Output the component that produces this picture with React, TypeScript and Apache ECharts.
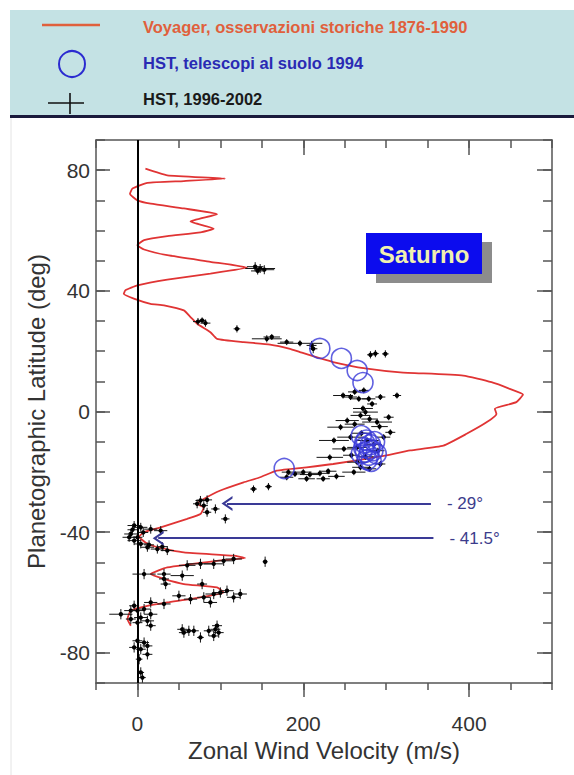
import React, { useEffect, useRef } from "react";
import * as echarts from "echarts";

// Voyager profile, historical observations 1876-1990: [velocity m/s, latitude deg]
const voyagerCurve: [number, number][] = [
  [9.6, 80.5], [36, 78.3], [106, 77.2], [56, 76.4], [12, 75.8], [-6, 73.9], [-9, 72.2],
  [0, 70], [16, 68.9], [56, 67.3], [96, 65.4], [64, 63], [92, 60.6], [76, 59.4], [36, 58.1],
  [8, 56.8], [0, 55.1], [8, 53.7], [36, 51.8], [88, 49.6], [132, 47.7], [88, 45.7],
  [36, 43.7], [0, 41.8], [-14.5, 40.2], [-16.5, 39], [-4.4, 37.4], [15.7, 35.7], [32, 35.2],
  [56, 33.5], [64, 31.3], [72, 29.1], [88, 26.3], [96, 24.1], [128, 23], [160, 22.2],
  [184, 20.8], [196, 19.7], [236, 16.4], [277, 14.2], [317, 13], [393, 11.9], [427, 9.7],
  [449, 7.5], [465, 5.6], [457, 3.1], [431, 0.9], [433, -0.8], [421, -3.6], [397, -7.4],
  [369, -11.3], [329, -12.9], [293, -14.9], [236, -17.4], [204, -18.5], [168, -19.6],
  [148, -21.8], [128, -23.5], [100, -26.2], [80, -29], [72, -30.6], [80, -31.8], [76, -34],
  [60, -35.6], [28, -38.4], [8, -40], [2, -41.5], [10, -43.5], [24, -45], [56, -46.7],
  [116, -47.8], [130, -48.6], [96, -49.5], [36, -51.7], [16, -53.9], [32, -55.5], [56, -57.2],
  [96, -58.3], [104, -60], [76, -61.6], [36, -63.3], [12, -64.4], [-8, -66], [-12, -68.8],
  [-8, -71],
];

// HST + ground telescopes 1994: [velocity, latitude]
const hst1994: [number, number][] = [
  [220, 20.9], [246, 17.6], [265, 13.6], [272, 9.6], [177, -18.9],
  [270, -8], [276, -9.5], [281, -11], [273, -12], [284, -13], [279, -14.5], [270, -14],
  [286, -10], [277, -16], [282, -16.5], [274, -10.5], [288, -14], [280, -12.5], [275, -13.5],
];

// HST 1996-2002: [velocity, latitude, velocity error, latitude error]
const hst9602: [number, number, number, number][] = [
  [148, 47.4, 18, 1.5], [142, 48.0, 10, 1.5], [153, 47.0, 12, 1.5], [145, 46.6, 8, 1.2],
  [73, 29.8, 6, 1.2], [82, 29.3, 6, 1.2], [78, 30.2, 5, 1], [120, 27.4, 4, 1.2],
  [156, 24.1, 18, 1.2], [162, 24.7, 10, 1], [180, 23.0, 8, 1], [196, 22.6, 27, 1],
  [210, 21.9, 6, 1.5], [212, 20.8, 5, 1.5], [281, 18.8, 4, 1.2], [287, 19.2, 4, 1.2], [299, 19.1, 4, 1.2],
  [248, 5.3, 12, 1], [257, 4.8, 8, 1], [267, 4.2, 10, 1], [279, 4.2, 8, 1], [293, 4.8, 6, 1],
  [313, 5.3, 5, 1], [283, 2.5, 6, 1], [273, 7.0, 6, 1], [262, 6.5, 8, 1],
  [275, -0.2, 15, 1], [269, -1.3, 12, 1], [289, -3.5, 18, 1], [303, -1.9, 6, 1], [253, -3.0, 14, 1],
  [245, -5.2, 16, 1], [280, -2.5, 10, 1], [292, -5.0, 10, 1], [262, -4.2, 12, 1], [272, 1.0, 12, 1],
  [305, -6.9, 6, 1], [237, -9.6, 18, 1], [257, -8.5, 16, 1], [277, -9.6, 14, 1], [297, -8.5, 8, 1],
  [249, -12.4, 14, 1], [265, -11.9, 12, 1], [285, -11, 10, 1], [270, -7.2, 12, 1], [290, -13, 8, 1],
  [258, -14.5, 10, 1],
  [293, -17.4, 6, 1], [232, -15.2, 16, 1], [265, -16.8, 12, 1], [269, -18.5, 10, 1], [261, -20.1, 14, 1],
  [275, -15.0, 10, 1], [280, -19.0, 8, 1],
  [182, -20.1, 8, 1], [190, -20.7, 10, 1], [200, -20.1, 10, 1], [208, -20.9, 12, 1], [220, -20.5, 12, 1],
  [230, -19.8, 10, 1], [224, -22.3, 8, 1], [204, -22.3, 10, 1], [180, -21.8, 8, 1], [240, -21.5, 10, 1],
  [140, -25.7, 4, 1.2], [158, -24.9, 4, 1.2],
  [76, -29.5, 6, 1.5], [84, -29.3, 6, 1.5], [80, -31.2, 5, 1.5], [84, -33.4, 5, 1.5], [94, -32.3, 5, 1.5],
  [106, -35.6, 5, 1.5], [72, -30.6, 5, 1.5],
  [-4, -37.8, 8, 1.5], [4, -38.4, 8, 1.5], [16, -39.0, 8, 1.5], [28, -39.5, 8, 1.5], [-8, -40.6, 8, 1.5],
  [-10, -41.7, 8, 1.5], [-4, -42.8, 8, 1.5], [4, -43.9, 8, 1.5], [12, -45.0, 8, 1.5], [24, -45.6, 8, 1.5],
  [36, -46.1, 8, 1.5], [0, -41.7, 6, 1.5], [7, -40.1, 6, 1.5], [-6, -39.2, 6, 1.5], [14, -44.2, 6, 1.5],
  [30, -44.8, 6, 1.5],
  [76, -50.5, 15, 1.7], [92, -50.5, 12, 1.7], [104, -49.5, 12, 1.7], [116, -48.9, 10, 1.7],
  [154, -49.8, 3, 1.7], [60, -51, 10, 1.7],
  [8, -53.9, 14, 1.7], [32, -53.9, 8, 1.7], [54, -54.4, 14, 1.7], [34, -57.2, 6, 1.7], [32, -55.5, 6, 1.7],
  [78, -57.2, 6, 1.7], [80, -61.6, 8, 1.7], [92, -60.5, 10, 1.7], [100, -60.0, 8, 1.7], [108, -59.4, 8, 1.7],
  [124, -60.5, 8, 1.7], [116, -61.6, 8, 1.7], [88, -63.3, 8, 1.7], [64, -62.2, 8, 1.7], [50, -61.1, 8, 1.7],
  [32, -63.8, 8, 1.7], [16, -63.3, 8, 1.7],
  [-20, -67.2, 14, 1.7], [-8, -66, 8, 1.7], [0, -66, 8, 1.7], [8, -65.5, 8, 1.7], [16, -67.2, 8, 1.7],
  [4, -68.3, 8, 1.7], [12, -69.4, 8, 1.7], [16, -71, 6, 1.7], [0, -70, 6, 1.7], [-8, -68.8, 6, 1.7],
  [-4, -64.4, 6, 1.7],
  [54, -72.2, 6, 1.7], [62, -72.7, 6, 1.7], [56, -73.3, 6, 1.7], [68, -72.7, 6, 1.7], [76, -74.9, 4, 1.7],
  [86, -72.7, 6, 1.7], [94, -72.2, 6, 1.7], [98, -73.3, 6, 1.7], [92, -74.4, 6, 1.7], [96, -71, 6, 1.7],
  [0, -76, 6, 1.7], [-4, -78.2, 6, 1.7], [4, -78.8, 6, 1.7], [12, -77.7, 6, 1.7], [12, -80.5, 6, 1.7],
  [2, -82.1, 4, 1.7], [8, -76.6, 6, 1.7], [6, -88.2, 4, 1.7], [4, -86.5, 4, 1.7],
];

const xMajorTicks = [0, 200, 400];
const yMajorTicks = [-80, -40, 0, 40, 80];

// Annotation arrows: label, latitude, start velocity, end velocity
const arrowLabels = ["- 29°", "- 41.5°"];
const arrowLats = [-30.5, -42];
const arrowFrom = [354, 357];
const arrowTo = [108, 25];

const legendTexts = [
  "Voyager, osservazioni storiche 1876-1990",
  "HST, telescopi al suolo 1994",
  "HST, 1996-2002",
];

const FONT = "'Liberation Sans', Arial, Helvetica, sans-serif";
const AXIS_COLOR = "#555";

export default function App() {
  const ref = useRef<HTMLDivElement>(null);

  useEffect(() => {
    if (!ref.current) return;
    const chart = echarts.init(ref.current, null, { renderer: "svg" });

    const chevron = "path://M0,10 L7,0 L14,10 L11.6,10 L7,3.4 L2.4,10 Z";

    const lineCommon = { show: true, onZero: false, lineStyle: { color: AXIS_COLOR, width: 1.5 } };
    const tickStyle = { color: AXIS_COLOR, width: 1.5 };

    const xBase = { type: "value", min: -50, max: 500, splitLine: { show: false } };
    const yBase = { type: "value", min: -90, max: 90, splitLine: { show: false } };

    const option: any = {
      animation: false,
      backgroundColor: "#ffffff",
      textStyle: { fontFamily: FONT },
      grid: { left: 96, right: 22, top: 140, bottom: 92 },
      xAxis: [
        { ...xBase, position: "bottom", interval: 50, axisLine: lineCommon,
          axisTick: { show: true, inside: false, length: 7, lineStyle: tickStyle }, axisLabel: { show: false } },
        { ...xBase, position: "bottom", axisLine: { show: false, onZero: false },
          axisTick: { show: true, inside: false, length: 14, customValues: xMajorTicks, lineStyle: tickStyle },
          axisLabel: { show: true, customValues: xMajorTicks, fontSize: 21, color: "#333", margin: 30, fontFamily: FONT },
          name: "Zonal Wind Velocity (m/s)", nameLocation: "middle", nameGap: 54,
          nameTextStyle: { fontSize: 24, color: "#333", fontFamily: FONT } },
        { ...xBase, position: "top", interval: 50, axisLine: lineCommon,
          axisTick: { show: true, inside: true, length: 8, lineStyle: tickStyle }, axisLabel: { show: false } },
        { ...xBase, position: "top", axisLine: { show: false, onZero: false },
          axisTick: { show: true, inside: true, length: 15, customValues: xMajorTicks, lineStyle: tickStyle },
          axisLabel: { show: false } },
      ],
      yAxis: [
        { ...yBase, position: "left", interval: 10, axisLine: lineCommon,
          axisTick: { show: true, inside: true, length: 9, lineStyle: tickStyle }, axisLabel: { show: false } },
        { ...yBase, position: "left", axisLine: { show: false, onZero: false },
          axisTick: { show: true, inside: true, length: 14, customValues: yMajorTicks, lineStyle: tickStyle },
          axisLabel: { show: true, customValues: yMajorTicks, fontSize: 21, color: "#333", margin: 6, fontFamily: FONT },
          name: "Planetographic Latitude (deg)", nameLocation: "middle", nameGap: 34,
          nameTextStyle: { fontSize: 24, color: "#333", fontFamily: FONT } },
        { ...yBase, position: "right", interval: 10, axisLine: lineCommon,
          axisTick: { show: true, inside: true, length: 9, lineStyle: tickStyle }, axisLabel: { show: false } },
        { ...yBase, position: "right", axisLine: { show: false, onZero: false },
          axisTick: { show: true, inside: true, length: 15, customValues: yMajorTicks, lineStyle: tickStyle },
          axisLabel: { show: false } },
      ],
      graphic: [
        { type: "line", shape: { x1: 11, y1: 118, x2: 11, y2: 775 }, style: { stroke: "#e4e4e4", lineWidth: 1 } },
        { type: "rect", shape: { x: 10, y: 10, width: 564, height: 106 }, style: { fill: "#c4e2e4" } },
        { type: "rect", shape: { x: 10, y: 115, width: 564, height: 3 }, style: { fill: "#1a1a3c" } },
        { type: "line", shape: { x1: 42, y1: 25, x2: 100, y2: 25 }, style: { stroke: "#e0603c", lineWidth: 2.5 } },
        { type: "circle", shape: { cx: 72, cy: 64, r: 13 }, style: { fill: "none", stroke: "#2b2bd0", lineWidth: 2 } },
        { type: "line", shape: { x1: 48, y1: 103, x2: 84, y2: 103 }, style: { stroke: "#111", lineWidth: 1.6 } },
        { type: "line", shape: { x1: 70, y1: 93, x2: 70, y2: 114 }, style: { stroke: "#111", lineWidth: 1.6 } },
        { type: "text", x: 143, y: 27, style: { text: legendTexts[0], fill: "#e0603c", fontSize: 16.5, fontWeight: "bold", fontFamily: FONT, verticalAlign: "middle" } },
        { type: "text", x: 143, y: 63, style: { text: legendTexts[1], fill: "#2a2ab4", fontSize: 16.5, fontWeight: "bold", fontFamily: FONT, verticalAlign: "middle" } },
        { type: "text", x: 143, y: 99, style: { text: legendTexts[2], fill: "#1a1a1a", fontSize: 16.5, fontWeight: "bold", fontFamily: FONT, verticalAlign: "middle" } },
        { type: "rect", shape: { x: 376, y: 242, width: 116, height: 41 }, style: { fill: "#8c8c8c" }, z: 10 },
        { type: "rect", shape: { x: 366, y: 233, width: 116, height: 41 }, style: { fill: "#0c0cee" }, z: 11 },
        { type: "text", x: 424, y: 254, z: 12, style: { text: "Saturno", fill: "#f0f0b0", fontSize: 24, fontWeight: "bold", fontFamily: FONT, align: "center", verticalAlign: "middle" } },
      ],
      series: [
        {
          type: "line",
          name: legendTexts[0],
          data: voyagerCurve,
          showSymbol: false,
          symbol: "none",
          smooth: 0.15,
          lineStyle: { color: "#e03434", width: 1.8 },
          z: 3,
          markLine: {
            silent: true,
            symbol: ["none", "none"],
            animation: false,
            data: [
              { xAxis: 0, lineStyle: { color: "#000", width: 2, type: "solid" }, label: { show: false } },
              ...arrowLabels.map((lab, i) => [
                {
                  coord: [arrowFrom[i], arrowLats[i]],
                  symbol: "none",
                  lineStyle: { color: "#3a3a96", width: 2, type: "solid" },
                  label: { show: true, position: "start", formatter: lab, color: "#3c3c8c", fontSize: 17, fontFamily: FONT, distance: 16 },
                },
                { coord: [arrowTo[i], arrowLats[i]], symbol: chevron, symbolSize: [15, 11] },
              ]),
            ],
          },
        },
        {
          type: "custom",
          name: legendTexts[2],
          data: hst9602,
          encode: { x: 0, y: 1 },
          z: 4,
          renderItem: (_params: any, api: any) => {
            const v = api.value(0), l = api.value(1), dv = api.value(2), dl = api.value(3);
            const c = api.coord([v, l]);
            const lft = api.coord([v - dv, l]);
            const rgt = api.coord([v + dv, l]);
            const top = api.coord([v, l + dl]);
            const bot = api.coord([v, l - dl]);
            return {
              type: "group",
              children: [
                { type: "line", shape: { x1: lft[0], y1: c[1], x2: rgt[0], y2: c[1] }, style: { stroke: "#151515", lineWidth: 1 } },
                { type: "line", shape: { x1: c[0], y1: top[1], x2: c[0], y2: bot[1] }, style: { stroke: "#151515", lineWidth: 1 } },
                { type: "circle", shape: { cx: c[0], cy: c[1], r: 2.2 }, style: { fill: "#000" } },
              ],
            };
          },
        },
        {
          type: "scatter",
          name: legendTexts[1],
          data: hst1994,
          symbol: "circle",
          symbolSize: 20,
          itemStyle: { color: "rgba(0,0,0,0)", borderColor: "#3a3ad8", borderWidth: 1.6 },
          z: 5,
        },
      ],
    };

    chart.setOption(option);
    return () => chart.dispose();
  }, []);

  return (
    <div
      ref={ref}
      style={{ position: "fixed", left: 0, top: 0, width: 574, height: 775, background: "#fff" }}
    />
  );
}
